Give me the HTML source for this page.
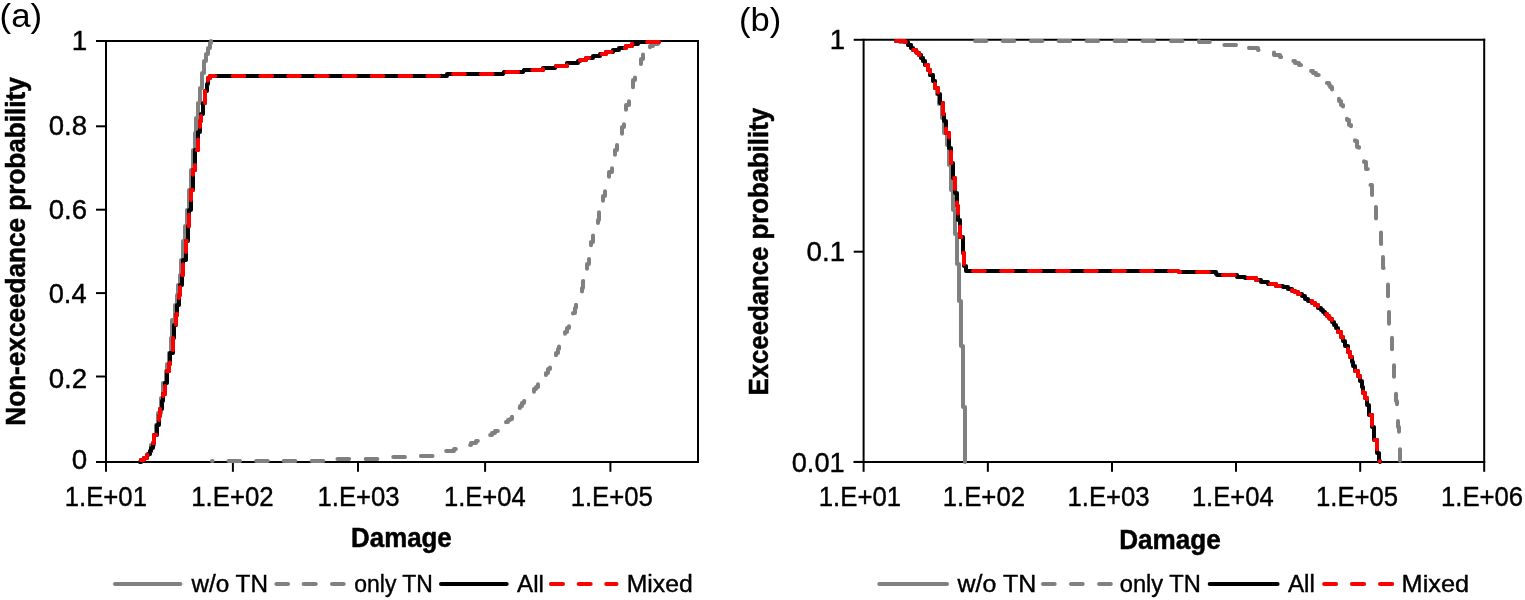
<!DOCTYPE html>
<html><head><meta charset="utf-8"><title>Damage probability curves</title>
<style>html,body{margin:0;padding:0;background:#fff;}svg{display:block;}text{font-family:"Liberation Sans", Arial, sans-serif;fill:#000;stroke:#000;stroke-width:0.4px;}text.b{stroke-width:0.5px;}text.n{stroke:none;}</style>
</head><body>
<svg width="1525" height="600" viewBox="0 0 1525 600">
<rect width="1525" height="600" fill="#fff"/>
<line x1="106" y1="41" x2="699" y2="41" stroke="#000" stroke-width="2" stroke-linecap="butt"/>
<line x1="698" y1="40" x2="698" y2="462" stroke="#000" stroke-width="2" stroke-linecap="butt"/>
<line x1="106" y1="40" x2="106" y2="463" stroke="#000" stroke-width="2" stroke-linecap="butt"/>
<line x1="96" y1="462" x2="699" y2="462" stroke="#000" stroke-width="2" stroke-linecap="butt"/>
<line x1="96" y1="41" x2="106" y2="41" stroke="#000" stroke-width="2" stroke-linecap="butt"/>
<line x1="96" y1="126.3" x2="106" y2="126.3" stroke="#000" stroke-width="2" stroke-linecap="butt"/>
<line x1="96" y1="209.7" x2="106" y2="209.7" stroke="#000" stroke-width="2" stroke-linecap="butt"/>
<line x1="96" y1="293.1" x2="106" y2="293.1" stroke="#000" stroke-width="2" stroke-linecap="butt"/>
<line x1="96" y1="376.5" x2="106" y2="376.5" stroke="#000" stroke-width="2" stroke-linecap="butt"/>
<line x1="96" y1="462" x2="106" y2="462" stroke="#000" stroke-width="2" stroke-linecap="butt"/>
<line x1="106" y1="462" x2="106" y2="471.8" stroke="#000" stroke-width="2" stroke-linecap="butt"/>
<line x1="232.9" y1="462" x2="232.9" y2="471.8" stroke="#000" stroke-width="2" stroke-linecap="butt"/>
<line x1="358.0" y1="462" x2="358.0" y2="471.8" stroke="#000" stroke-width="2" stroke-linecap="butt"/>
<line x1="485.1" y1="462" x2="485.1" y2="471.8" stroke="#000" stroke-width="2" stroke-linecap="butt"/>
<line x1="610.4" y1="462" x2="610.4" y2="471.8" stroke="#000" stroke-width="2" stroke-linecap="butt"/>
<text transform="translate(71.75 49.90) scale(1.0000 1)" font-size="27.83">1</text>
<text transform="translate(48.70 134.73) scale(1.0201 1)" font-size="27.04">0.8</text>
<text transform="translate(48.70 218.73) scale(1.0148 1)" font-size="27.18">0.6</text>
<text transform="translate(48.71 302.73) scale(1.0085 1)" font-size="27.04">0.4</text>
<text transform="translate(48.69 387.73) scale(1.0135 1)" font-size="27.32">0.2</text>
<text transform="translate(71.79 468.63) scale(1.0223 1)" font-size="27.18">0</text>
<text transform="translate(64.67 505.73) scale(0.9524 1)" font-size="27.04">1.E+01</text>
<text transform="translate(191.27 505.73) scale(0.9540 1)" font-size="27.04">1.E+02</text>
<text transform="translate(317.47 505.73) scale(0.9509 1)" font-size="27.04">1.E+03</text>
<text transform="translate(443.98 505.73) scale(0.9463 1)" font-size="27.04">1.E+04</text>
<text transform="translate(570.67 505.73) scale(0.9509 1)" font-size="27.04">1.E+05</text>
<text transform="translate(351.12 547.00) scale(0.9490 1)" font-size="27.25" font-weight="bold" class="b">Damage</text>
<text transform="translate(25.10 425.70) rotate(-90) scale(0.9450 1)" font-size="27.68" font-weight="bold" class="b">Non-exceedance probability</text>
<text transform="translate(-0.39 26.58) scale(1.0270 1)" font-size="33.90" class="n">(a)</text>
<line x1="115" y1="584" x2="180.4" y2="584" stroke="#808080" stroke-width="4" stroke-linecap="round"/>
<line x1="276.4" y1="584" x2="288" y2="584" stroke="#808080" stroke-width="4" stroke-linecap="round"/>
<line x1="303.7" y1="584" x2="315.7" y2="584" stroke="#808080" stroke-width="4" stroke-linecap="round"/>
<line x1="332" y1="584" x2="343.7" y2="584" stroke="#808080" stroke-width="4" stroke-linecap="round"/>
<line x1="441" y1="584" x2="506.7" y2="584" stroke="#000" stroke-width="4" stroke-linecap="round"/>
<line x1="550.9" y1="584" x2="563" y2="584" stroke="#ff0000" stroke-width="4" stroke-linecap="round"/>
<line x1="578.7" y1="584" x2="590.7" y2="584" stroke="#ff0000" stroke-width="4" stroke-linecap="round"/>
<line x1="606.2" y1="584" x2="616.5" y2="584" stroke="#ff0000" stroke-width="4" stroke-linecap="round"/>
<text transform="translate(191.50 592.10) scale(1.0103 1)" font-size="24.06">w/o TN</text>
<text transform="translate(354.28 592.10) scale(0.9533 1)" font-size="24.06">only TN</text>
<text transform="translate(516.98 592.10) scale(1.0072 1)" font-size="24.06">All</text>
<text transform="translate(626.72 592.10) scale(1.0293 1)" font-size="24.06">Mixed</text>
<path d="M140.00 462.00 L141.00 462.00 L141.00 460.00 L143.00 460.00 L144.00 460.00 L144.00 458.00 L147.00 458.00 L147.00 455.00 L148.00 455.00 L148.00 454.00 L150.00 454.00 L150.00 451.00 L151.00 451.00 L151.00 450.00 L151.00 445.00 L154.00 445.00 L154.00 440.00 L154.00 435.00 L156.00 435.00 L156.00 430.00 L156.00 425.00 L158.00 425.00 L158.00 420.00 L158.00 413.00 L161.00 413.00 L161.00 405.00 L161.00 398.00 L163.00 398.00 L163.00 390.00 L163.00 383.00 L166.00 383.00 L166.00 375.00 L166.00 371.00 L167.00 371.00 L167.00 364.00 L169.00 364.00 L169.00 360.00 L169.00 353.00 L171.00 353.00 L171.00 345.00 L171.00 338.00 L172.00 338.00 L172.00 330.00 L172.00 320.00 L175.00 320.00 L175.00 310.00 L175.00 305.00 L177.00 305.00 L177.00 295.00 L178.00 295.00 L178.00 290.00 L178.00 285.00 L180.00 285.00 L180.00 275.00 L181.00 275.00 L181.00 270.00 L181.00 260.00 L183.00 260.00 L183.00 250.00 L183.00 241.00 L185.00 241.00 L185.00 232.00 L185.00 226.00 L187.00 226.00 L187.00 220.00 L187.00 210.00 L189.00 210.00 L189.00 200.00 L189.00 190.00 L191.00 190.00 L191.00 180.00 L191.00 170.00 L193.00 170.00 L193.00 160.00 L193.00 150.00 L195.00 150.00 L195.00 140.00 L195.00 133.00 L196.00 133.00 L196.00 125.00 L196.00 118.00 L198.00 118.00 L198.00 110.00 L198.00 103.00 L200.00 103.00 L200.00 95.00 L200.00 88.00 L202.00 88.00 L202.00 80.00 L202.00 73.00 L204.00 73.00 L204.00 65.00 L204.00 61.00 L206.00 61.00 L206.00 54.00 L208.00 54.00 L208.00 50.00 L208.00 48.00 L210.00 48.00 L210.00 43.00 L211.00 43.00 L211.00 41.00" fill="none" stroke="#808080" stroke-width="4" stroke-linecap="round" stroke-linejoin="round"/>
<path d="M212.00 461.00 L212.65 461.00" fill="none" stroke="#808080" stroke-width="4" stroke-linecap="round" stroke-linejoin="round"/>
<path d="M228.45 461.00 L240.15 461.00" fill="none" stroke="#808080" stroke-width="4" stroke-linecap="round" stroke-linejoin="round"/>
<path d="M256.15 461.00 L267.85 461.00" fill="none" stroke="#808080" stroke-width="4" stroke-linecap="round" stroke-linejoin="round"/>
<path d="M283.65 461.00 L295.35 461.00" fill="none" stroke="#808080" stroke-width="4" stroke-linecap="round" stroke-linejoin="round"/>
<path d="M311.65 461.00 L323.35 461.00" fill="none" stroke="#808080" stroke-width="4" stroke-linecap="round" stroke-linejoin="round"/>
<path d="M337.45 459.00 L343.00 459.00 L349.15 459.00" fill="none" stroke="#808080" stroke-width="4" stroke-linecap="round" stroke-linejoin="round"/>
<path d="M365.65 459.00 L371.00 459.00 L377.35 459.00" fill="none" stroke="#808080" stroke-width="4" stroke-linecap="round" stroke-linejoin="round"/>
<path d="M393.25 457.00 L399.00 457.00 L404.95 457.00" fill="none" stroke="#808080" stroke-width="4" stroke-linecap="round" stroke-linejoin="round"/>
<path d="M420.85 456.00 L427.00 456.00 L432.55 456.00" fill="none" stroke="#808080" stroke-width="4" stroke-linecap="round" stroke-linejoin="round"/>
<path d="M446.15 451.00 L452.00 451.00 L454.00 451.00 L454.00 449.00 L455.85 449.00" fill="none" stroke="#808080" stroke-width="4" stroke-linecap="round" stroke-linejoin="round"/>
<path d="M470.15 445.00 L471.00 445.00 L471.00 443.00 L474.00 443.00 L476.00 443.00 L476.00 441.00 L477.85 441.00" fill="none" stroke="#808080" stroke-width="4" stroke-linecap="round" stroke-linejoin="round"/>
<path d="M490.15 435.00 L492.00 435.00 L492.00 433.00 L494.00 433.00 L495.00 433.00 L495.00 431.00 L497.85 431.00" fill="none" stroke="#808080" stroke-width="4" stroke-linecap="round" stroke-linejoin="round"/>
<path d="M506.00 422.35 L506.00 422.00 L508.00 422.00 L508.00 420.00 L510.00 420.00 L510.00 419.00 L512.00 419.00 L512.00 416.65" fill="none" stroke="#808080" stroke-width="4" stroke-linecap="round" stroke-linejoin="round"/>
<path d="M519.65 408.00 L520.00 408.00 L520.00 406.00 L522.00 406.00 L522.00 405.00 L522.00 403.00 L524.00 403.00 L524.00 401.00 L524.35 401.00" fill="none" stroke="#808080" stroke-width="4" stroke-linecap="round" stroke-linejoin="round"/>
<path d="M534.00 391.85 L534.00 389.00 L536.00 389.00 L536.00 388.00 L536.00 387.00 L538.00 387.00 L538.00 384.15" fill="none" stroke="#808080" stroke-width="4" stroke-linecap="round" stroke-linejoin="round"/>
<path d="M545.85 375.00 L546.00 375.00 L546.00 373.00 L548.00 373.00 L548.00 371.00 L548.00 369.00 L550.00 369.00 L550.00 367.45" fill="none" stroke="#808080" stroke-width="4" stroke-linecap="round" stroke-linejoin="round"/>
<path d="M556.00 355.15 L556.00 353.00 L558.00 353.00 L558.00 351.00 L558.00 349.00 L559.00 349.00 L559.00 346.45" fill="none" stroke="#808080" stroke-width="4" stroke-linecap="round" stroke-linejoin="round"/>
<path d="M565.00 333.85 L565.00 332.00 L567.00 332.00 L567.00 330.00 L567.00 328.00 L569.00 328.00 L569.00 326.15" fill="none" stroke="#808080" stroke-width="4" stroke-linecap="round" stroke-linejoin="round"/>
<path d="M573.00 313.45 L573.00 313.00 L575.00 313.00 L575.00 310.00 L575.00 308.00 L576.00 308.00 L576.00 304.75" fill="none" stroke="#808080" stroke-width="4" stroke-linecap="round" stroke-linejoin="round"/>
<path d="M582.00 291.45 L582.00 288.00 L583.00 288.00 L583.00 281.00 L583.25 281.00" fill="none" stroke="#808080" stroke-width="4" stroke-linecap="round" stroke-linejoin="round"/>
<path d="M587.00 268.65 L587.00 264.00 L589.00 264.00 L589.00 258.95" fill="none" stroke="#808080" stroke-width="4" stroke-linecap="round" stroke-linejoin="round"/>
<path d="M591.00 245.15 L591.00 242.00 L593.00 242.00 L593.00 235.45" fill="none" stroke="#808080" stroke-width="4" stroke-linecap="round" stroke-linejoin="round"/>
<path d="M598.00 222.95 L598.00 220.00 L599.00 220.00 L599.00 212.25" fill="none" stroke="#808080" stroke-width="4" stroke-linecap="round" stroke-linejoin="round"/>
<path d="M603.00 200.85 L603.00 200.00 L603.00 196.00 L605.00 196.00 L605.00 191.15" fill="none" stroke="#808080" stroke-width="4" stroke-linecap="round" stroke-linejoin="round"/>
<path d="M609.00 176.85 L609.00 176.00 L609.00 172.00 L612.00 172.00 L612.00 168.15" fill="none" stroke="#808080" stroke-width="4" stroke-linecap="round" stroke-linejoin="round"/>
<path d="M615.00 154.75 L615.00 150.00 L617.00 150.00 L617.00 146.00 L617.00 145.05" fill="none" stroke="#808080" stroke-width="4" stroke-linecap="round" stroke-linejoin="round"/>
<path d="M622.00 133.85 L622.00 127.00 L624.00 127.00 L624.00 124.15" fill="none" stroke="#808080" stroke-width="4" stroke-linecap="round" stroke-linejoin="round"/>
<path d="M626.00 109.85 L626.00 105.00 L629.00 105.00 L629.00 101.15" fill="none" stroke="#808080" stroke-width="4" stroke-linecap="round" stroke-linejoin="round"/>
<path d="M633.00 87.15 L633.00 80.00 L635.00 80.00 L635.00 77.45" fill="none" stroke="#808080" stroke-width="4" stroke-linecap="round" stroke-linejoin="round"/>
<path d="M640.85 64.00 L641.00 64.00 L641.00 59.00 L643.00 59.00 L643.00 56.00 L643.00 54.45" fill="none" stroke="#808080" stroke-width="4" stroke-linecap="round" stroke-linejoin="round"/>
<path d="M650.00 47.15 L650.00 46.00 L653.00 46.00 L653.00 44.00 L656.00 44.00 L658.00 44.00 L658.00 43.45" fill="none" stroke="#808080" stroke-width="4" stroke-linecap="round" stroke-linejoin="round"/>
<path d="M140.00 462.00 L141.00 462.00 L141.00 460.00 L143.00 460.00 L144.00 460.00 L144.00 458.00 L147.00 458.00 L147.00 455.00 L148.00 455.00 L148.00 454.00 L150.00 454.00 L150.00 451.00 L151.00 451.00 L151.00 450.00 L151.00 448.00 L153.00 448.00 L153.00 443.00 L154.00 443.00 L154.00 440.00 L154.00 435.00 L157.00 435.00 L157.00 430.00 L157.00 425.00 L159.00 425.00 L159.00 420.00 L159.00 416.00 L160.00 416.00 L160.00 409.00 L162.00 409.00 L162.00 405.00 L162.00 401.00 L163.00 401.00 L163.00 394.00 L165.00 394.00 L165.00 390.00 L165.00 383.00 L167.00 383.00 L167.00 375.00 L167.00 371.00 L169.00 371.00 L169.00 364.00 L170.00 364.00 L170.00 360.00 L170.00 353.00 L173.00 353.00 L173.00 345.00 L173.00 338.00 L174.00 338.00 L174.00 330.00 L174.00 325.00 L176.00 325.00 L176.00 315.00 L177.00 315.00 L177.00 310.00 L177.00 305.00 L179.00 305.00 L179.00 295.00 L180.00 295.00 L180.00 290.00 L180.00 285.00 L182.00 285.00 L182.00 275.00 L183.00 275.00 L183.00 270.00 L183.00 260.00 L186.00 260.00 L186.00 250.00 L186.00 241.00 L188.00 241.00 L188.00 232.00 L188.00 226.00 L189.00 226.00 L189.00 220.00 L189.00 210.00 L191.00 210.00 L191.00 200.00 L191.00 190.00 L193.00 190.00 L193.00 180.00 L193.00 170.00 L195.00 170.00 L195.00 160.00 L195.00 150.00 L198.00 150.00 L198.00 140.00 L198.00 132.00 L200.00 132.00 L200.00 124.00 L200.00 121.00 L201.00 121.00 L201.00 114.00 L203.00 114.00 L203.00 110.00 L203.00 103.00 L205.00 103.00 L205.00 95.00 L205.00 91.00 L207.00 91.00 L207.00 84.00 L208.00 84.00 L208.00 80.00 L208.00 78.00 L210.00 78.00 L210.00 76.00 L447.00 76.00 L447.00 74.00 L503.00 74.00 L504.00 72.00 L523.00 72.00 L524.00 70.00 L543.00 70.00 L543.00 68.00 L555.00 68.00 L556.00 66.00 L567.00 66.00 L567.00 63.00 L578.00 63.00 L578.00 61.00 L580.00 61.00 L580.00 60.00 L583.00 60.00 L586.00 60.00 L586.00 58.00 L590.00 58.00 L593.00 58.00 L593.00 56.00 L596.00 56.00 L600.00 56.00 L600.00 54.00 L603.00 54.00 L606.00 54.00 L606.00 52.00 L609.00 52.00 L613.00 52.00 L613.00 50.00 L616.00 50.00 L619.00 50.00 L619.00 48.00 L623.00 48.00 L626.00 48.00 L626.00 46.00 L629.00 46.00 L632.00 46.00 L632.00 44.00 L635.00 44.00 L638.00 44.00 L638.00 42.00 L641.00 42.00 L659.00 42.00" fill="none" stroke="#000" stroke-width="4" stroke-linecap="round" stroke-linejoin="round"/>
<path d="M141.00 460.30 L141.00 460.00 L143.00 460.00 L144.00 460.00 L144.00 458.00 L147.00 458.00 L147.00 455.00 L147.50 455.00" fill="none" stroke="#ff0000" stroke-width="4" stroke-linecap="round" stroke-linejoin="round"/>
<path d="M153.00 443.30 L153.00 443.00 L154.00 443.00 L154.00 440.00 L154.00 435.00 L156.50 435.00" fill="none" stroke="#ff0000" stroke-width="4" stroke-linecap="round" stroke-linejoin="round"/>
<path d="M159.00 419.90 L159.00 416.00 L160.00 416.00 L160.00 409.10" fill="none" stroke="#ff0000" stroke-width="4" stroke-linecap="round" stroke-linejoin="round"/>
<path d="M163.00 395.90 L163.00 394.00 L165.00 394.00 L165.00 390.00 L165.00 386.10" fill="none" stroke="#ff0000" stroke-width="4" stroke-linecap="round" stroke-linejoin="round"/>
<path d="M167.00 371.40 L167.00 371.00 L169.00 371.00 L169.00 364.00 L170.00 364.00 L170.00 362.60" fill="none" stroke="#ff0000" stroke-width="4" stroke-linecap="round" stroke-linejoin="round"/>
<path d="M173.00 349.90 L173.00 345.00 L173.00 338.10" fill="none" stroke="#ff0000" stroke-width="4" stroke-linecap="round" stroke-linejoin="round"/>
<path d="M176.00 324.60 L176.00 315.00 L177.00 315.00 L177.00 313.80" fill="none" stroke="#ff0000" stroke-width="4" stroke-linecap="round" stroke-linejoin="round"/>
<path d="M179.00 297.90 L179.00 295.00 L180.00 295.00 L180.00 290.00 L180.00 287.10" fill="none" stroke="#ff0000" stroke-width="4" stroke-linecap="round" stroke-linejoin="round"/>
<path d="M182.00 275.10 L182.00 275.00 L183.00 275.00 L183.00 270.00 L183.00 264.30" fill="none" stroke="#ff0000" stroke-width="4" stroke-linecap="round" stroke-linejoin="round"/>
<path d="M186.00 251.90 L186.00 250.00 L186.00 241.00 L186.90 241.00" fill="none" stroke="#ff0000" stroke-width="4" stroke-linecap="round" stroke-linejoin="round"/>
<path d="M188.40 226.00 L189.00 226.00 L189.00 220.00 L189.00 214.80" fill="none" stroke="#ff0000" stroke-width="4" stroke-linecap="round" stroke-linejoin="round"/>
<path d="M191.00 199.90 L191.00 190.00 L192.90 190.00" fill="none" stroke="#ff0000" stroke-width="4" stroke-linecap="round" stroke-linejoin="round"/>
<path d="M193.00 174.80 L193.00 170.00 L195.00 170.00 L195.00 165.00" fill="none" stroke="#ff0000" stroke-width="4" stroke-linecap="round" stroke-linejoin="round"/>
<path d="M196.80 150.00 L198.00 150.00 L198.00 140.00 L198.00 139.40" fill="none" stroke="#ff0000" stroke-width="4" stroke-linecap="round" stroke-linejoin="round"/>
<path d="M200.00 126.90 L200.00 124.00 L200.00 121.00 L201.00 121.00 L201.00 116.10" fill="none" stroke="#ff0000" stroke-width="4" stroke-linecap="round" stroke-linejoin="round"/>
<path d="M205.00 103.00 L205.00 95.00 L205.00 91.20" fill="none" stroke="#ff0000" stroke-width="4" stroke-linecap="round" stroke-linejoin="round"/>
<path d="M208.00 80.40 L208.00 80.00 L208.00 78.00 L210.00 78.00 L210.00 76.00 L215.40 76.00" fill="none" stroke="#ff0000" stroke-width="4" stroke-linecap="round" stroke-linejoin="round"/>
<path d="M232.60 76.00 L244.40 76.00" fill="none" stroke="#ff0000" stroke-width="4" stroke-linecap="round" stroke-linejoin="round"/>
<path d="M260.30 76.00 L272.10 76.00" fill="none" stroke="#ff0000" stroke-width="4" stroke-linecap="round" stroke-linejoin="round"/>
<path d="M288.13 76.00 L299.93 76.00" fill="none" stroke="#ff0000" stroke-width="4" stroke-linecap="round" stroke-linejoin="round"/>
<path d="M315.97 76.00 L327.77 76.00" fill="none" stroke="#ff0000" stroke-width="4" stroke-linecap="round" stroke-linejoin="round"/>
<path d="M343.80 76.00 L355.60 76.00" fill="none" stroke="#ff0000" stroke-width="4" stroke-linecap="round" stroke-linejoin="round"/>
<path d="M371.63 76.00 L383.43 76.00" fill="none" stroke="#ff0000" stroke-width="4" stroke-linecap="round" stroke-linejoin="round"/>
<path d="M399.47 76.00 L411.27 76.00" fill="none" stroke="#ff0000" stroke-width="4" stroke-linecap="round" stroke-linejoin="round"/>
<path d="M427.30 76.00 L439.10 76.00" fill="none" stroke="#ff0000" stroke-width="4" stroke-linecap="round" stroke-linejoin="round"/>
<path d="M453.10 74.00 L464.90 74.00" fill="none" stroke="#ff0000" stroke-width="4" stroke-linecap="round" stroke-linejoin="round"/>
<path d="M480.90 74.00 L492.70 74.00" fill="none" stroke="#ff0000" stroke-width="4" stroke-linecap="round" stroke-linejoin="round"/>
<path d="M506.40 72.00 L518.20 72.00" fill="none" stroke="#ff0000" stroke-width="4" stroke-linecap="round" stroke-linejoin="round"/>
<path d="M532.30 70.00 L543.00 70.00 L543.00 68.90" fill="none" stroke="#ff0000" stroke-width="4" stroke-linecap="round" stroke-linejoin="round"/>
<path d="M556.10 66.00 L567.00 66.00 L567.00 65.10" fill="none" stroke="#ff0000" stroke-width="4" stroke-linecap="round" stroke-linejoin="round"/>
<path d="M580.00 60.70 L580.00 60.00 L583.00 60.00 L586.00 60.00 L586.00 58.00 L589.10 58.00" fill="none" stroke="#ff0000" stroke-width="4" stroke-linecap="round" stroke-linejoin="round"/>
<path d="M601.60 54.00 L603.00 54.00 L606.00 54.00 L606.00 52.00 L609.00 52.00 L611.40 52.00" fill="none" stroke="#ff0000" stroke-width="4" stroke-linecap="round" stroke-linejoin="round"/>
<path d="M624.80 48.00 L626.00 48.00 L626.00 46.00 L629.00 46.00 L632.00 46.00 L632.00 44.00 L632.60 44.00" fill="none" stroke="#ff0000" stroke-width="4" stroke-linecap="round" stroke-linejoin="round"/>
<path d="M647.20 42.00 L659.00 42.00" fill="none" stroke="#ff0000" stroke-width="4" stroke-linecap="round" stroke-linejoin="round"/>
<line x1="863.6" y1="39.8" x2="1485.2" y2="39.8" stroke="#000" stroke-width="2" stroke-linecap="butt"/>
<line x1="1484.2" y1="38.8" x2="1484.2" y2="461.9" stroke="#000" stroke-width="2" stroke-linecap="butt"/>
<line x1="863.6" y1="38.8" x2="863.6" y2="462.9" stroke="#000" stroke-width="2" stroke-linecap="butt"/>
<line x1="853.6" y1="461.9" x2="1485.2" y2="461.9" stroke="#000" stroke-width="2" stroke-linecap="butt"/>
<line x1="853.7" y1="39.8" x2="863.6" y2="39.8" stroke="#000" stroke-width="2" stroke-linecap="butt"/>
<line x1="853.7" y1="251.7" x2="863.6" y2="251.7" stroke="#000" stroke-width="2" stroke-linecap="butt"/>
<line x1="853.7" y1="461.9" x2="863.6" y2="461.9" stroke="#000" stroke-width="2" stroke-linecap="butt"/>
<line x1="863.6" y1="461.9" x2="863.6" y2="471.8" stroke="#000" stroke-width="2" stroke-linecap="butt"/>
<line x1="987.85" y1="461.9" x2="987.85" y2="471.8" stroke="#000" stroke-width="2" stroke-linecap="butt"/>
<line x1="1112" y1="461.9" x2="1112" y2="471.8" stroke="#000" stroke-width="2" stroke-linecap="butt"/>
<line x1="1236" y1="461.9" x2="1236" y2="471.8" stroke="#000" stroke-width="2" stroke-linecap="butt"/>
<line x1="1360.2" y1="461.9" x2="1360.2" y2="471.8" stroke="#000" stroke-width="2" stroke-linecap="butt"/>
<line x1="1484.2" y1="461.9" x2="1484.2" y2="471.8" stroke="#000" stroke-width="2" stroke-linecap="butt"/>
<text transform="translate(829.79 49.00) scale(1.0000 1)" font-size="27.54">1</text>
<text transform="translate(806.59 260.93) scale(1.0187 1)" font-size="27.18">0.1</text>
<text transform="translate(791.71 471.63) scale(1.0067 1)" font-size="27.04">0.01</text>
<text transform="translate(818.77 505.73) scale(0.9524 1)" font-size="27.04">1.E+01</text>
<text transform="translate(942.67 505.73) scale(0.9540 1)" font-size="27.04">1.E+02</text>
<text transform="translate(1067.47 505.73) scale(0.9509 1)" font-size="27.04">1.E+03</text>
<text transform="translate(1191.88 505.73) scale(0.9463 1)" font-size="27.04">1.E+04</text>
<text transform="translate(1315.97 505.73) scale(0.9509 1)" font-size="27.04">1.E+05</text>
<text transform="translate(1440.97 505.73) scale(0.9509 1)" font-size="27.04">1.E+06</text>
<text transform="translate(1119.20 548.80) scale(0.9680 1)" font-size="26.96" font-weight="bold" class="b">Damage</text>
<text transform="translate(767.70 395.42) rotate(-90) scale(0.9605 1)" font-size="26.81" font-weight="bold" class="b">Exceedance probability</text>
<text transform="translate(738.93 30.58) scale(1.0189 1)" font-size="33.90" class="n">(b)</text>
<line x1="879.3" y1="584" x2="947" y2="584" stroke="#808080" stroke-width="4" stroke-linecap="round"/>
<line x1="1043" y1="584" x2="1054.7" y2="584" stroke="#808080" stroke-width="4" stroke-linecap="round"/>
<line x1="1071" y1="584" x2="1082.7" y2="584" stroke="#808080" stroke-width="4" stroke-linecap="round"/>
<line x1="1099.1" y1="584" x2="1110.8" y2="584" stroke="#808080" stroke-width="4" stroke-linecap="round"/>
<line x1="1209.7" y1="584" x2="1277.6" y2="584" stroke="#000" stroke-width="4" stroke-linecap="round"/>
<line x1="1324.1" y1="584" x2="1336.1" y2="584" stroke="#ff0000" stroke-width="4" stroke-linecap="round"/>
<line x1="1351.9" y1="584" x2="1364.1" y2="584" stroke="#ff0000" stroke-width="4" stroke-linecap="round"/>
<line x1="1380" y1="584" x2="1392.2" y2="584" stroke="#ff0000" stroke-width="4" stroke-linecap="round"/>
<text transform="translate(957.60 591.90) scale(1.0501 1)" font-size="23.77">w/o TN</text>
<text transform="translate(1119.75 591.90) scale(0.9968 1)" font-size="23.77">only TN</text>
<text transform="translate(1287.88 591.90) scale(1.0195 1)" font-size="23.77">All</text>
<text transform="translate(1401.57 591.90) scale(1.0652 1)" font-size="23.77">Mixed</text>
<path d="M896.00 41.00 L900.00 41.00 L900.00 42.00 L905.00 42.00 L908.00 42.00 L908.00 45.00 L910.00 45.00 L911.00 45.00 L911.00 48.00 L913.00 48.00 L913.00 50.00 L916.00 50.00 L916.00 52.00 L917.00 52.00 L917.00 53.00 L919.00 53.00 L919.00 55.00 L921.00 55.00 L921.00 58.00 L923.00 58.00 L923.00 59.00 L923.00 61.00 L925.00 61.00 L925.00 65.00 L928.00 65.00 L928.00 67.00 L928.00 70.00 L930.00 70.00 L930.00 75.00 L933.00 75.00 L933.00 77.00 L933.00 81.00 L935.00 81.00 L935.00 85.00 L935.00 88.00 L937.00 88.00 L937.00 94.00 L939.00 94.00 L939.00 97.00 L939.00 104.00 L942.00 104.00 L942.00 110.00 L942.00 118.00 L944.00 118.00 L944.00 125.00 L944.00 133.00 L947.00 133.00 L947.00 140.00 L947.00 145.00 L949.00 145.00 L949.00 150.00 L949.00 165.00 L951.00 165.00 L951.00 190.00 L953.00 190.00 L953.00 210.00 L955.00 210.00 L955.00 234.00 L957.00 234.00 L957.00 264.00 L959.00 264.00 L959.00 301.00 L961.00 301.00 L961.00 346.00 L963.00 346.00 L963.00 407.00 L965.00 407.00 L965.00 462.00" fill="none" stroke="#808080" stroke-width="4" stroke-linecap="round" stroke-linejoin="round"/>
<path d="M975.00 41.00 L986.45 41.00" fill="none" stroke="#808080" stroke-width="4" stroke-linecap="round" stroke-linejoin="round"/>
<path d="M1002.65 41.00 L1014.35 41.00" fill="none" stroke="#808080" stroke-width="4" stroke-linecap="round" stroke-linejoin="round"/>
<path d="M1030.75 41.00 L1042.45 41.00" fill="none" stroke="#808080" stroke-width="4" stroke-linecap="round" stroke-linejoin="round"/>
<path d="M1058.55 41.00 L1070.25 41.00" fill="none" stroke="#808080" stroke-width="4" stroke-linecap="round" stroke-linejoin="round"/>
<path d="M1086.55 41.00 L1098.25 41.00" fill="none" stroke="#808080" stroke-width="4" stroke-linecap="round" stroke-linejoin="round"/>
<path d="M1114.55 41.00 L1126.25 41.00" fill="none" stroke="#808080" stroke-width="4" stroke-linecap="round" stroke-linejoin="round"/>
<path d="M1142.55 41.00 L1154.25 41.00" fill="none" stroke="#808080" stroke-width="4" stroke-linecap="round" stroke-linejoin="round"/>
<path d="M1170.85 41.00 L1182.00 41.00 L1182.55 41.00" fill="none" stroke="#808080" stroke-width="4" stroke-linecap="round" stroke-linejoin="round"/>
<path d="M1199.00 41.05 L1199.00 42.00 L1204.00 42.00 L1209.75 42.00" fill="none" stroke="#808080" stroke-width="4" stroke-linecap="round" stroke-linejoin="round"/>
<path d="M1224.35 45.00 L1230.00 45.00 L1236.00 45.00 L1236.00 45.05" fill="none" stroke="#808080" stroke-width="4" stroke-linecap="round" stroke-linejoin="round"/>
<path d="M1249.00 47.85 L1249.00 48.00 L1255.00 48.00 L1258.00 48.00 L1258.00 50.00 L1258.55 50.00" fill="none" stroke="#808080" stroke-width="4" stroke-linecap="round" stroke-linejoin="round"/>
<path d="M1274.00 52.55 L1274.00 55.00 L1277.00 55.00 L1280.00 55.00 L1280.00 57.00 L1281.25 57.00" fill="none" stroke="#808080" stroke-width="4" stroke-linecap="round" stroke-linejoin="round"/>
<path d="M1293.35 61.00 L1295.00 61.00 L1295.00 63.00 L1297.00 63.00 L1299.00 63.00 L1299.00 65.00 L1301.05 65.00" fill="none" stroke="#808080" stroke-width="4" stroke-linecap="round" stroke-linejoin="round"/>
<path d="M1311.05 71.00 L1313.00 71.00 L1313.00 73.00 L1315.00 73.00 L1316.00 73.00 L1316.00 75.00 L1318.75 75.00" fill="none" stroke="#808080" stroke-width="4" stroke-linecap="round" stroke-linejoin="round"/>
<path d="M1326.85 83.00 L1329.00 83.00 L1329.00 85.00 L1330.00 85.00 L1330.00 87.00 L1332.00 87.00 L1332.00 89.55" fill="none" stroke="#808080" stroke-width="4" stroke-linecap="round" stroke-linejoin="round"/>
<path d="M1339.00 98.75 L1339.00 101.00 L1341.00 101.00 L1341.00 103.00 L1341.00 105.00 L1343.00 105.00 L1343.00 106.45" fill="none" stroke="#808080" stroke-width="4" stroke-linecap="round" stroke-linejoin="round"/>
<path d="M1347.00 118.65 L1347.00 120.00 L1349.00 120.00 L1349.00 123.00 L1349.00 125.00 L1351.00 125.00 L1351.00 126.35" fill="none" stroke="#808080" stroke-width="4" stroke-linecap="round" stroke-linejoin="round"/>
<path d="M1355.00 140.15 L1355.00 141.00 L1357.00 141.00 L1357.00 144.00 L1357.00 147.00 L1359.00 147.00 L1359.00 147.85" fill="none" stroke="#808080" stroke-width="4" stroke-linecap="round" stroke-linejoin="round"/>
<path d="M1364.00 161.15 L1364.00 162.00 L1366.00 162.00 L1366.00 165.00 L1366.00 169.00 L1367.85 169.00" fill="none" stroke="#808080" stroke-width="4" stroke-linecap="round" stroke-linejoin="round"/>
<path d="M1370.45 185.00 L1372.00 185.00 L1372.00 189.00 L1372.00 195.00 L1372.15 195.00" fill="none" stroke="#808080" stroke-width="4" stroke-linecap="round" stroke-linejoin="round"/>
<path d="M1375.85 207.00 L1376.00 207.00 L1376.00 213.00 L1376.00 218.55" fill="none" stroke="#808080" stroke-width="4" stroke-linecap="round" stroke-linejoin="round"/>
<path d="M1381.00 232.45 L1381.00 238.00 L1381.00 244.00 L1381.15 244.00" fill="none" stroke="#808080" stroke-width="4" stroke-linecap="round" stroke-linejoin="round"/>
<path d="M1383.00 256.95 L1383.00 260.00 L1383.00 268.00 L1383.65 268.00" fill="none" stroke="#808080" stroke-width="4" stroke-linecap="round" stroke-linejoin="round"/>
<path d="M1388.00 284.45 L1388.00 290.00 L1388.00 296.15" fill="none" stroke="#808080" stroke-width="4" stroke-linecap="round" stroke-linejoin="round"/>
<path d="M1389.00 311.95 L1389.00 318.00 L1389.00 323.65" fill="none" stroke="#808080" stroke-width="4" stroke-linecap="round" stroke-linejoin="round"/>
<path d="M1392.00 337.65 L1392.00 344.00 L1392.00 349.35" fill="none" stroke="#808080" stroke-width="4" stroke-linecap="round" stroke-linejoin="round"/>
<path d="M1394.00 365.15 L1394.00 371.00 L1394.00 376.85" fill="none" stroke="#808080" stroke-width="4" stroke-linecap="round" stroke-linejoin="round"/>
<path d="M1396.00 393.65 L1396.00 395.00 L1396.00 401.00 L1397.00 401.00 L1397.00 404.35" fill="none" stroke="#808080" stroke-width="4" stroke-linecap="round" stroke-linejoin="round"/>
<path d="M1398.00 421.05 L1398.00 427.00 L1399.00 427.00 L1399.00 431.75" fill="none" stroke="#808080" stroke-width="4" stroke-linecap="round" stroke-linejoin="round"/>
<path d="M1400.00 449.15 L1400.00 460.85" fill="none" stroke="#808080" stroke-width="4" stroke-linecap="round" stroke-linejoin="round"/>
<path d="M896.00 41.00 L905.00 41.00 L905.00 42.00 L908.00 42.00 L908.00 45.00 L910.00 45.00 L911.00 45.00 L911.00 48.00 L913.00 48.00 L913.00 50.00 L916.00 50.00 L916.00 52.00 L917.00 52.00 L917.00 53.00 L919.00 53.00 L919.00 55.00 L921.00 55.00 L921.00 58.00 L923.00 58.00 L923.00 59.00 L923.00 61.00 L925.00 61.00 L925.00 65.00 L928.00 65.00 L928.00 67.00 L928.00 70.00 L930.00 70.00 L930.00 75.00 L933.00 75.00 L933.00 77.00 L933.00 81.00 L935.00 81.00 L935.00 85.00 L935.00 88.00 L938.00 88.00 L938.00 94.00 L940.00 94.00 L940.00 97.00 L940.00 103.00 L943.00 103.00 L943.00 110.00 L943.00 114.00 L944.00 114.00 L944.00 121.00 L946.00 121.00 L946.00 125.00 L946.00 133.00 L949.00 133.00 L949.00 140.00 L949.00 148.00 L951.00 148.00 L951.00 155.00 L951.00 163.00 L953.00 163.00 L953.00 170.00 L953.00 178.00 L955.00 178.00 L955.00 185.00 L955.00 193.00 L957.00 193.00 L957.00 200.00 L957.00 206.00 L958.00 206.00 L958.00 212.00 L958.00 220.00 L960.00 220.00 L960.00 228.00 L960.00 237.00 L963.00 237.00 L963.00 245.00 L963.00 253.00 L964.00 253.00 L964.00 262.00 L964.00 266.00 L966.00 266.00 L966.00 271.00 L1178.00 271.00 L1179.00 272.00 L1216.00 272.00 L1216.00 274.00 L1217.00 274.00 L1217.00 275.00 L1237.00 275.00 L1237.00 276.00 L1237.00 277.00 L1245.00 277.00 L1245.00 278.00 L1253.00 278.00 L1256.00 278.00 L1256.00 280.00 L1261.00 280.00 L1261.00 282.00 L1264.00 282.00 L1268.00 282.00 L1268.00 284.00 L1276.00 284.00 L1276.00 286.00 L1280.00 286.00 L1283.00 286.00 L1283.00 287.00 L1288.00 287.00 L1288.00 289.00 L1290.00 289.00 L1292.00 289.00 L1292.00 291.00 L1295.00 291.00 L1295.00 292.00 L1298.00 292.00 L1298.00 294.00 L1300.00 294.00 L1302.00 294.00 L1302.00 296.00 L1305.00 296.00 L1305.00 299.00 L1308.00 299.00 L1308.00 301.00 L1310.00 301.00 L1312.00 301.00 L1312.00 303.00 L1315.00 303.00 L1315.00 305.00 L1318.00 305.00 L1318.00 308.00 L1320.00 308.00 L1321.00 308.00 L1321.00 310.00 L1323.00 310.00 L1323.00 312.00 L1325.00 312.00 L1325.00 314.00 L1327.00 314.00 L1327.00 316.00 L1329.00 316.00 L1329.00 318.00 L1330.00 318.00 L1330.00 319.00 L1332.00 319.00 L1332.00 322.00 L1334.00 322.00 L1334.00 325.00 L1336.00 325.00 L1336.00 328.00 L1338.00 328.00 L1338.00 330.00 L1338.00 332.00 L1341.00 332.00 L1341.00 337.00 L1343.00 337.00 L1343.00 341.00 L1345.00 341.00 L1345.00 343.00 L1345.00 346.00 L1348.00 346.00 L1348.00 352.00 L1350.00 352.00 L1350.00 355.00 L1350.00 357.00 L1352.00 357.00 L1352.00 362.00 L1353.00 362.00 L1353.00 366.00 L1355.00 366.00 L1355.00 368.00 L1355.00 371.00 L1358.00 371.00 L1358.00 376.00 L1360.00 376.00 L1360.00 378.00 L1360.00 381.00 L1362.00 381.00 L1362.00 387.00 L1363.00 387.00 L1363.00 390.00 L1363.00 393.00 L1365.00 393.00 L1365.00 398.00 L1367.00 398.00 L1367.00 400.00 L1367.00 405.00 L1369.00 405.00 L1369.00 410.00 L1369.00 415.00 L1372.00 415.00 L1372.00 420.00 L1372.00 427.00 L1374.00 427.00 L1374.00 433.00 L1374.00 440.00 L1377.00 440.00 L1377.00 447.00 L1377.00 453.00 L1379.00 453.00 L1379.00 460.00 L1379.00 461.00 L1380.00 461.00 L1380.00 462.00" fill="none" stroke="#000" stroke-width="4" stroke-linecap="round" stroke-linejoin="round"/>
<path d="M896.00 41.00 L905.00 41.00 L905.00 42.00 L905.90 42.00" fill="none" stroke="#ff0000" stroke-width="4" stroke-linecap="round" stroke-linejoin="round"/>
<path d="M913.10 50.00 L916.00 50.00 L916.00 52.00 L917.00 52.00 L917.00 53.00 L919.00 53.00 L919.00 55.00 L919.90 55.00" fill="none" stroke="#ff0000" stroke-width="4" stroke-linecap="round" stroke-linejoin="round"/>
<path d="M925.80 65.00 L928.00 65.00 L928.00 67.00 L928.00 70.00 L930.00 70.00 L930.00 72.60" fill="none" stroke="#ff0000" stroke-width="4" stroke-linecap="round" stroke-linejoin="round"/>
<path d="M935.00 83.80 L935.00 85.00 L935.00 88.00 L938.00 88.00 L938.00 92.60" fill="none" stroke="#ff0000" stroke-width="4" stroke-linecap="round" stroke-linejoin="round"/>
<path d="M943.00 103.10 L943.00 110.00 L943.00 114.00 L943.90 114.00" fill="none" stroke="#ff0000" stroke-width="4" stroke-linecap="round" stroke-linejoin="round"/>
<path d="M946.00 128.60 L946.00 133.00 L949.00 133.00 L949.00 137.40" fill="none" stroke="#ff0000" stroke-width="4" stroke-linecap="round" stroke-linejoin="round"/>
<path d="M951.00 151.70 L951.00 155.00 L951.00 163.00 L951.50 163.00" fill="none" stroke="#ff0000" stroke-width="4" stroke-linecap="round" stroke-linejoin="round"/>
<path d="M954.10 178.00 L955.00 178.00 L955.00 185.00 L955.00 188.90" fill="none" stroke="#ff0000" stroke-width="4" stroke-linecap="round" stroke-linejoin="round"/>
<path d="M957.00 202.60 L957.00 206.00 L958.00 206.00 L958.00 212.00 L958.00 213.40" fill="none" stroke="#ff0000" stroke-width="4" stroke-linecap="round" stroke-linejoin="round"/>
<path d="M960.00 226.60 L960.00 228.00 L960.00 237.00 L961.40 237.00" fill="none" stroke="#ff0000" stroke-width="4" stroke-linecap="round" stroke-linejoin="round"/>
<path d="M963.10 253.00 L964.00 253.00 L964.00 262.00 L964.00 263.90" fill="none" stroke="#ff0000" stroke-width="4" stroke-linecap="round" stroke-linejoin="round"/>
<path d="M973.00 271.00 L984.80 271.00" fill="none" stroke="#ff0000" stroke-width="4" stroke-linecap="round" stroke-linejoin="round"/>
<path d="M1001.10 271.00 L1012.90 271.00" fill="none" stroke="#ff0000" stroke-width="4" stroke-linecap="round" stroke-linejoin="round"/>
<path d="M1028.90 271.00 L1040.70 271.00" fill="none" stroke="#ff0000" stroke-width="4" stroke-linecap="round" stroke-linejoin="round"/>
<path d="M1057.10 271.00 L1068.90 271.00" fill="none" stroke="#ff0000" stroke-width="4" stroke-linecap="round" stroke-linejoin="round"/>
<path d="M1085.10 271.00 L1096.90 271.00" fill="none" stroke="#ff0000" stroke-width="4" stroke-linecap="round" stroke-linejoin="round"/>
<path d="M1113.10 271.00 L1124.90 271.00" fill="none" stroke="#ff0000" stroke-width="4" stroke-linecap="round" stroke-linejoin="round"/>
<path d="M1141.00 271.00 L1152.80 271.00" fill="none" stroke="#ff0000" stroke-width="4" stroke-linecap="round" stroke-linejoin="round"/>
<path d="M1169.00 271.00 L1178.00 271.00 L1179.00 272.00 L1180.39 272.00" fill="none" stroke="#ff0000" stroke-width="4" stroke-linecap="round" stroke-linejoin="round"/>
<path d="M1197.00 272.00 L1208.80 272.00" fill="none" stroke="#ff0000" stroke-width="4" stroke-linecap="round" stroke-linejoin="round"/>
<path d="M1223.00 275.00 L1234.80 275.00" fill="none" stroke="#ff0000" stroke-width="4" stroke-linecap="round" stroke-linejoin="round"/>
<path d="M1247.90 278.00 L1253.00 278.00 L1256.00 278.00 L1256.00 280.00 L1257.70 280.00" fill="none" stroke="#ff0000" stroke-width="4" stroke-linecap="round" stroke-linejoin="round"/>
<path d="M1270.10 284.00 L1276.00 284.00 L1276.00 286.00 L1279.90 286.00" fill="none" stroke="#ff0000" stroke-width="4" stroke-linecap="round" stroke-linejoin="round"/>
<path d="M1292.00 290.10 L1292.00 291.00 L1295.00 291.00 L1295.00 292.00 L1298.00 292.00 L1298.00 294.00 L1299.90 294.00" fill="none" stroke="#ff0000" stroke-width="4" stroke-linecap="round" stroke-linejoin="round"/>
<path d="M1311.40 301.00 L1312.00 301.00 L1312.00 303.00 L1315.00 303.00 L1315.00 305.00 L1318.00 305.00 L1318.00 306.20" fill="none" stroke="#ff0000" stroke-width="4" stroke-linecap="round" stroke-linejoin="round"/>
<path d="M1326.10 314.00 L1327.00 314.00 L1327.00 316.00 L1329.00 316.00 L1329.00 318.00 L1330.00 318.00 L1330.00 319.00 L1332.00 319.00 L1332.00 319.90" fill="none" stroke="#ff0000" stroke-width="4" stroke-linecap="round" stroke-linejoin="round"/>
<path d="M1338.00 330.90 L1338.00 332.00 L1341.00 332.00 L1341.00 337.00 L1343.00 337.00 L1343.00 337.70" fill="none" stroke="#ff0000" stroke-width="4" stroke-linecap="round" stroke-linejoin="round"/>
<path d="M1348.00 349.10 L1348.00 352.00 L1350.00 352.00 L1350.00 355.00 L1350.00 357.00 L1351.90 357.00" fill="none" stroke="#ff0000" stroke-width="4" stroke-linecap="round" stroke-linejoin="round"/>
<path d="M1355.00 370.80 L1355.00 371.00 L1358.00 371.00 L1358.00 376.00 L1360.00 376.00 L1360.00 377.60" fill="none" stroke="#ff0000" stroke-width="4" stroke-linecap="round" stroke-linejoin="round"/>
<path d="M1363.00 391.50 L1363.00 393.00 L1365.00 393.00 L1365.00 398.00 L1367.00 398.00 L1367.00 399.30" fill="none" stroke="#ff0000" stroke-width="4" stroke-linecap="round" stroke-linejoin="round"/>
<path d="M1370.30 415.00 L1372.00 415.00 L1372.00 420.00 L1372.00 425.10" fill="none" stroke="#ff0000" stroke-width="4" stroke-linecap="round" stroke-linejoin="round"/>
<path d="M1374.40 440.00 L1377.00 440.00 L1377.00 447.00 L1377.00 449.20" fill="none" stroke="#ff0000" stroke-width="4" stroke-linecap="round" stroke-linejoin="round"/>
<circle cx="1379.6" cy="461.3" r="2" fill="#ff0000"/>
</svg>
</body></html>
